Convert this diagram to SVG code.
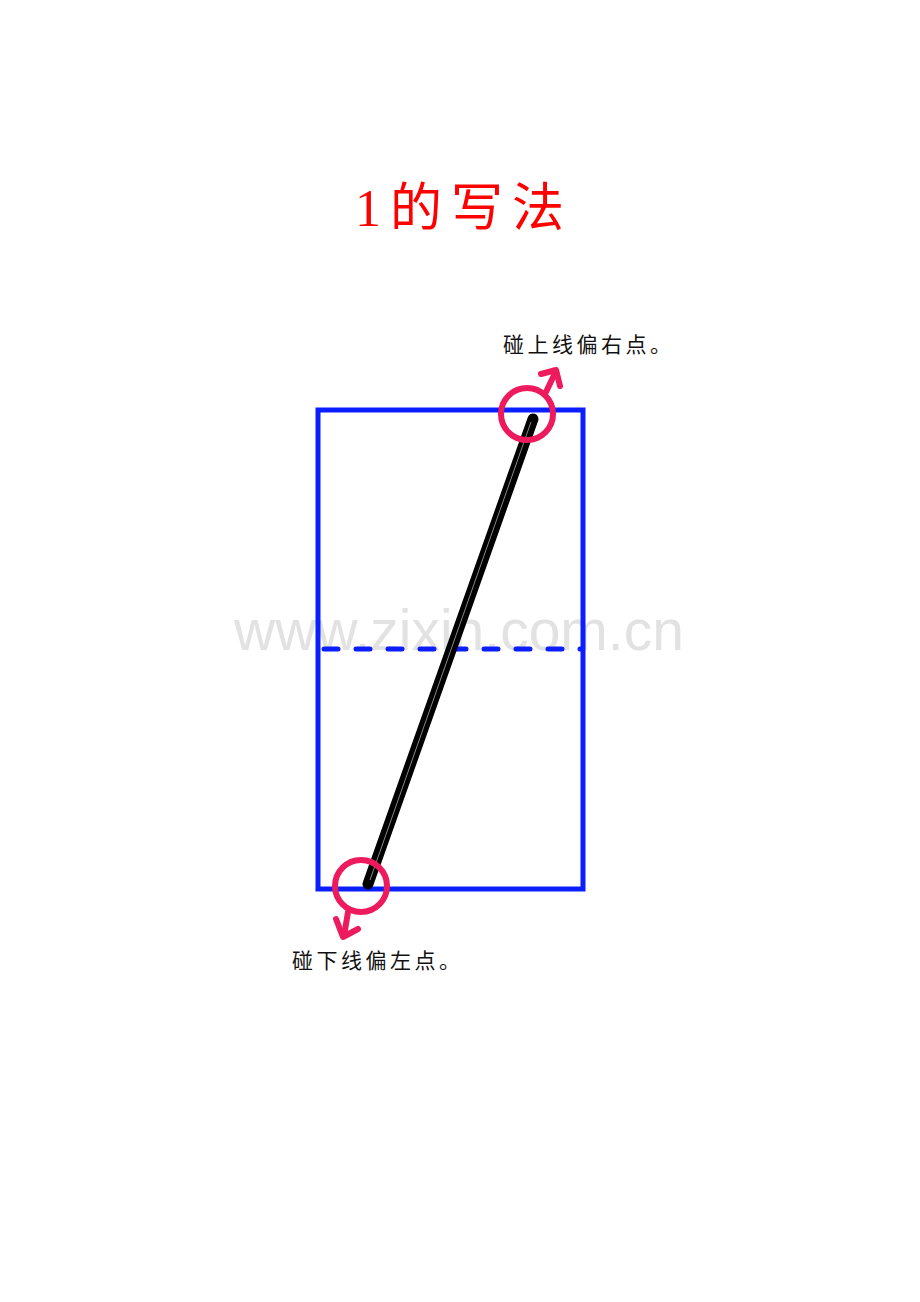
<svg xmlns="http://www.w3.org/2000/svg" width="920" height="1302" viewBox="0 0 920 1302">
<style>
.box{fill:none;stroke:#0a1eff;stroke-width:5}
.dash{fill:none;stroke:#0a1eff;stroke-width:5;stroke-dasharray:14 18;stroke-linecap:round}
.pink{fill:none;stroke:#ee1a5e;stroke-width:6;stroke-linecap:round;stroke-linejoin:round}
.lbl{font-family:"Noto Sans CJK SC","Noto Sans",sans-serif;font-size:21px;letter-spacing:3.5px;fill:#111}
</style>
<rect width="920" height="1302" fill="#ffffff"/>
<text x="459" y="650" text-anchor="middle" font-family="Liberation Sans, Arial, sans-serif" font-size="57" fill="#e2e2e2">www.zixin.com.cn</text>
<g id="title">
<text x="464" y="226" text-anchor="middle" font-family="'Noto Sans CJK SC',sans-serif" font-size="52" letter-spacing="9" fill="#ff0000"><tspan font-family="'Liberation Serif',serif">1</tspan>的写法</text>
</g>
<g id="grid">
<rect class="box" x="318" y="410" width="265" height="479"/>
<line class="dash" x1="324" y1="649" x2="582" y2="649"/>
</g>
<g id="stroke">
<line x1="533" y1="419" x2="368" y2="884" stroke="#000" stroke-width="11" stroke-linecap="round"/>
<line x1="531" y1="422" x2="370" y2="880" stroke="#888" stroke-width="1"/>
</g>
<g id="connectors">
<g id="top-mark">
<circle class="pink" cx="527" cy="414" r="26"/>
<line class="pink" x1="546" y1="392" x2="556" y2="371"/>
<polyline class="pink" points="541,374 556,370 560,386"/>
</g>
<g id="bottom-mark">
<circle class="pink" cx="361" cy="886" r="26"/>
<line class="pink" x1="348" y1="912" x2="344" y2="936"/>
<polyline class="pink" points="336,919 343,937 358,929"/>
</g>
</g>
<g id="label-top">
<text class="lbl" x="503" y="352">碰上线偏右点。</text>
</g>
<g id="label-bottom">
<text class="lbl" x="292" y="968">碰下线偏左点。</text>
</g>
</svg>
